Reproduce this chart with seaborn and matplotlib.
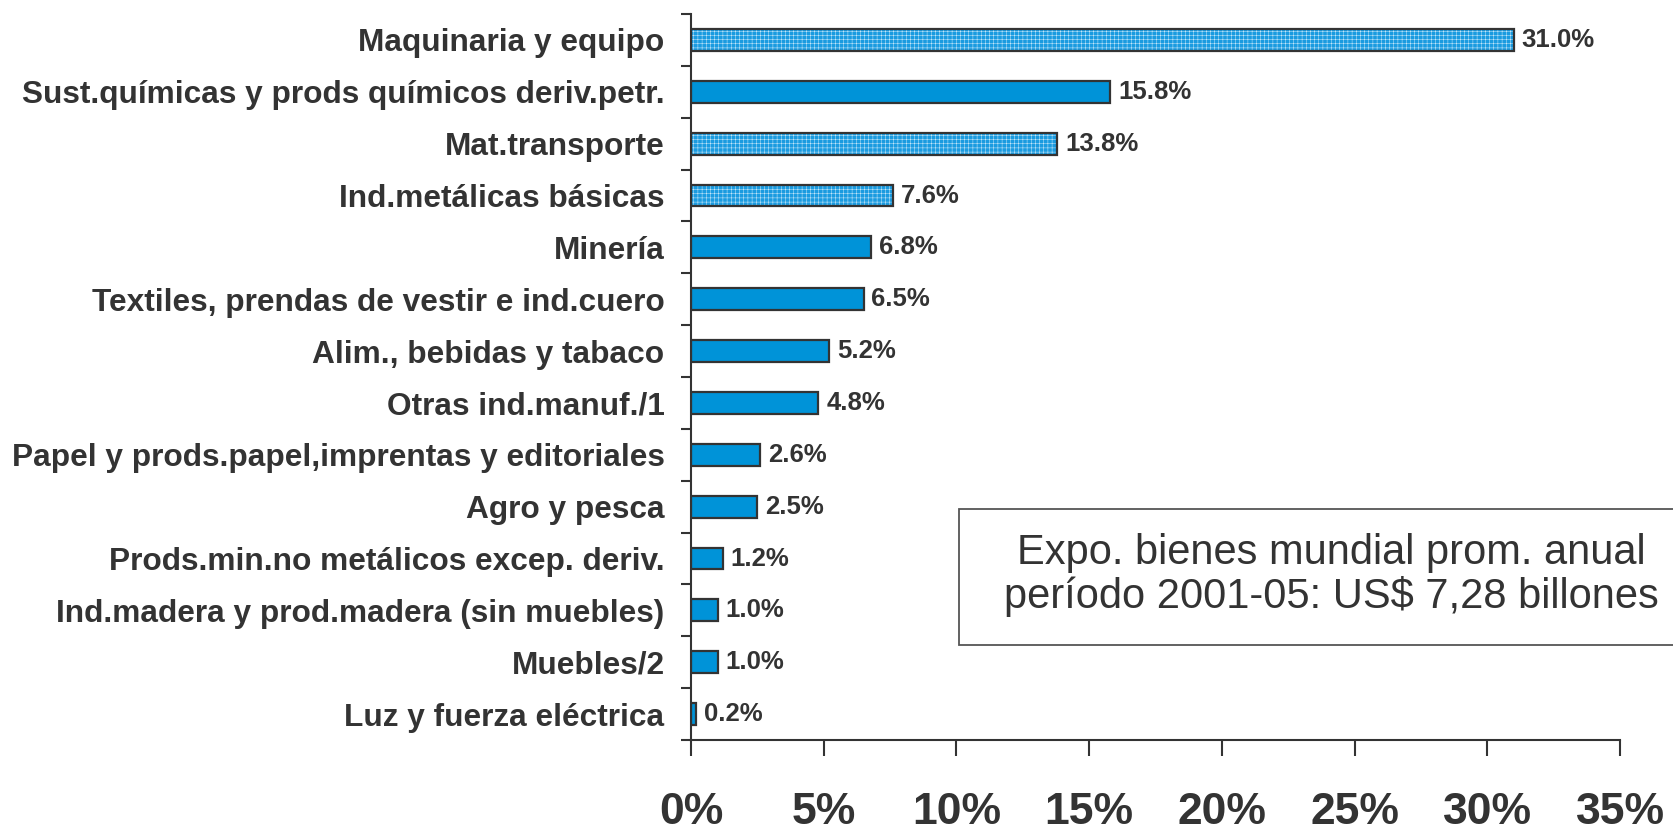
import matplotlib
matplotlib.use("Agg")
import matplotlib.pyplot as plt
import seaborn as sns
import pandas as pd

# ─── Data ─────────────────────────────────────────────────────────────────────
sectores = [
    "Maquinaria y equipo",
    "Sust.químicas y prods químicos deriv.petr.",
    "Mat.transporte",
    "Ind.metálicas básicas",
    "Minería",
    "Textiles, prendas de vestir e ind.cuero",
    "Alim., bebidas y tabaco",
    "Otras ind.manuf./1",
    "Papel y prods.papel,imprentas y editoriales",
    "Agro y pesca",
    "Prods.min.no metálicos excep. deriv.",
    "Ind.madera y prod.madera (sin muebles)",
    "Muebles/2",
    "Luz y fuerza eléctrica",
]
participacion = [31.0, 15.8, 13.8, 7.6, 6.8, 6.5, 5.2, 4.8, 2.6, 2.5, 1.2, 1.0, 1.0, 0.2]
destacados = ["Maquinaria y equipo", "Mat.transporte", "Ind.metálicas básicas"]
x_ticks = [0, 5, 10, 15, 20, 25, 30, 35]
nota = "Expo. bienes mundial prom. anual\nperíodo 2001-05: US$ 7,28 billones"

# ─── Style ────────────────────────────────────────────────────────────────────
AZUL = "#0093d8"
AZUL_CLARO = "#1a9be0"
GRIS = "#333333"

sns.set_style("white")
plt.rcParams["font.family"] = ["Liberation Sans", "DejaVu Sans"]
plt.rcParams["hatch.linewidth"] = 0.3

df = pd.DataFrame({"sector": sectores, "valor": participacion})
palette = {s: (AZUL_CLARO if s in destacados else AZUL) for s in sectores}

fig = plt.figure(figsize=(16.73, 8.30), dpi=100)
ax = fig.add_axes([691 / 1673, 1 - 740 / 830, (1620 - 691) / 1673, (740 - 14) / 830])

sns.barplot(data=df, x="valor", y="sector", hue="sector", palette=palette,
            order=sectores, orient="h", width=0.42, legend=False, saturation=1,
            edgecolor="#e8f6fe", linewidth=0, ax=ax)

# dotted fill on highlighted bars + dark outline on every bar
for patch, sector in zip(ax.patches, sectores):
    if sector in destacados:
        patch.set_hatch("++++")
    ax.add_patch(plt.Rectangle(patch.get_xy(), patch.get_width(), patch.get_height(),
                               fill=False, edgecolor=GRIS, linewidth=1.6, zorder=3))

# value labels
for i, v in enumerate(participacion):
    ax.text(v + 0.3, i, f"{v:.1f}%", va="center", ha="left",
            fontsize=18.5, fontweight="bold", color=GRIS)

ax.set_xlim(0, 35)
ax.set_ylim(len(sectores) - 0.5, -0.5)
ax.set_xticks(x_ticks)
ax.set_xticklabels([f"{t}%" for t in x_ticks], fontsize=32, fontweight="bold", color=GRIS)
ax.tick_params(axis="x", bottom=True, length=11.5, width=1.5, color=GRIS, pad=26,
               direction="out")

ax.set_yticks(range(len(sectores)))
ax.set_yticklabels(sectores, fontsize=22.8, fontweight="bold", color=GRIS)
ax.set_yticks([i - 0.5 for i in range(len(sectores) + 1)], minor=True)
ax.tick_params(axis="y", which="major", left=False, length=0, pad=19)
ax.tick_params(axis="y", which="minor", left=True, length=7, width=1.5, color=GRIS,
               direction="out")

ax.set_xlabel("")
ax.set_ylabel("")
sns.despine(ax=ax)
for side in ["left", "bottom"]:
    ax.spines[side].set_color(GRIS)
    ax.spines[side].set_linewidth(1.5)

# note box (runs off the right edge, as in the original)
fig.patches.append(plt.Rectangle((959 / 1673, 1 - 645 / 830), 0.5, 136 / 830,
                                 transform=fig.transFigure, facecolor="white",
                                 edgecolor="#555555", linewidth=1.3, zorder=5))
fig.text(1331 / 1673, 1 - 575 / 830, nota, ha="center", va="center",
         fontsize=30, color=GRIS, linespacing=1.12, zorder=6)

fig.savefig("out.png", dpi=100)
